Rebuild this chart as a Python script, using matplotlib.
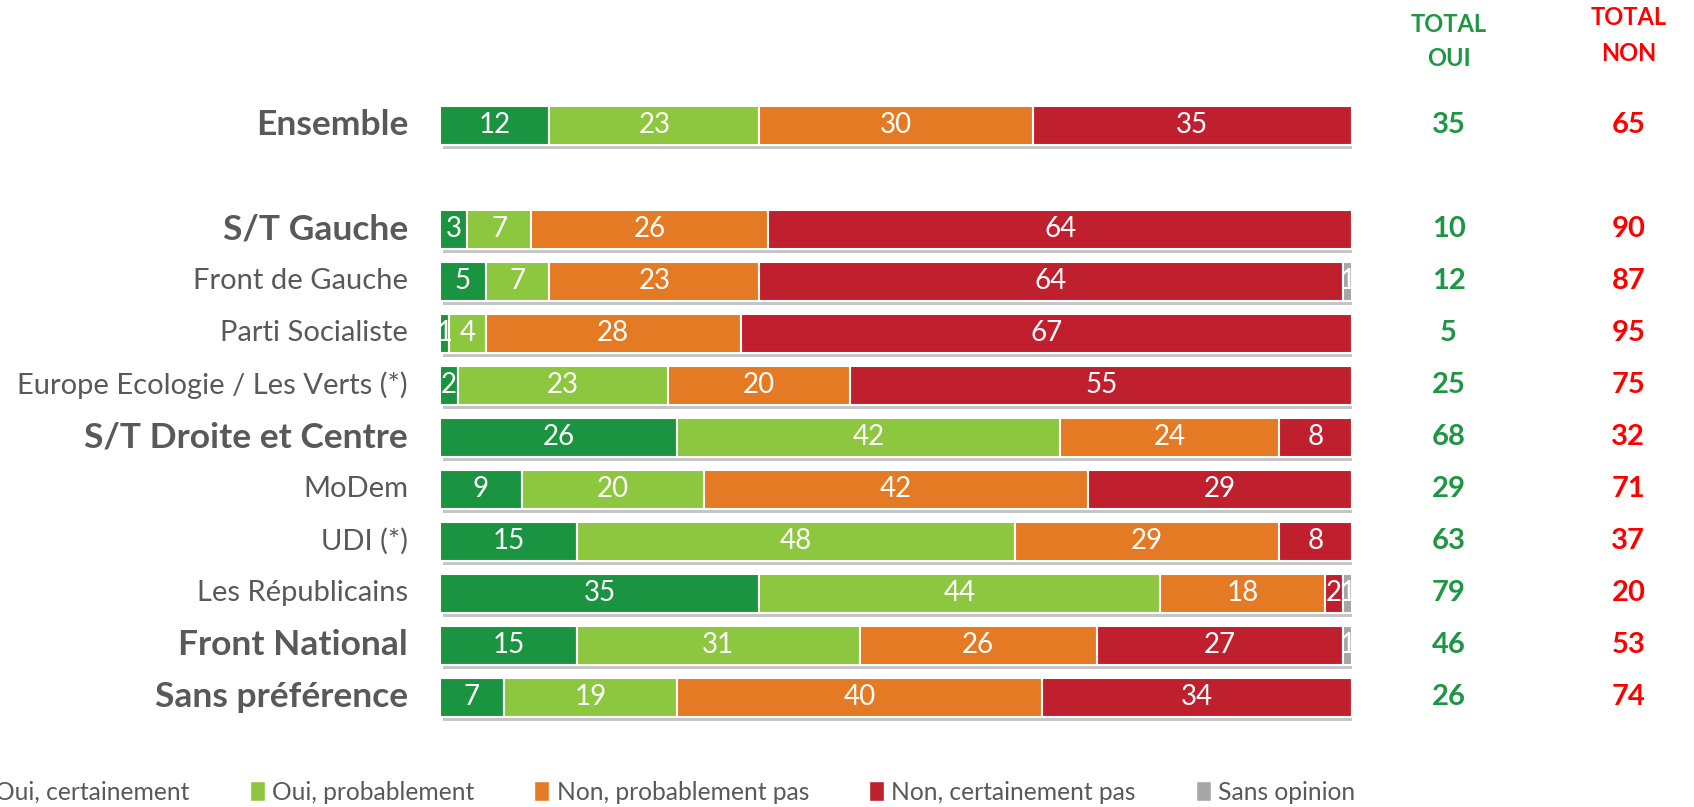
import matplotlib
matplotlib.use('Agg')
import matplotlib.pyplot as plt
import matplotlib.patheffects as pe
from matplotlib.patches import Patch

plt.rcParams['font.family'] = ['Lato', 'DejaVu Sans']

# Data
groups = ['Ensemble', 'S/T Gauche', 'Front de Gauche', 'Parti Socialiste',
          'Europe Ecologie / Les Verts (*)', 'S/T Droite et Centre', 'MoDem',
          'UDI (*)', 'Les Républicains', 'Front National', 'Sans préférence']
bold_groups = ['Ensemble', 'S/T Gauche', 'S/T Droite et Centre',
               'Front National', 'Sans préférence']
rows = [0, 2, 3, 4, 5, 6, 7, 8, 9, 10, 11]

oui_cert = [12, 3, 5, 1, 2, 26, 9, 15, 35, 15, 7]
oui_prob = [23, 7, 7, 4, 23, 42, 20, 48, 44, 31, 19]
non_prob = [30, 26, 23, 28, 20, 24, 42, 29, 18, 26, 40]
non_cert = [35, 64, 64, 67, 55, 8, 29, 8, 2, 27, 34]
sans_op = [0, 0, 1, 0, 0, 0, 0, 0, 1, 1, 0]

total_oui = [35, 10, 12, 5, 25, 68, 29, 63, 79, 46, 26]
total_non = [65, 90, 87, 95, 75, 32, 71, 37, 20, 53, 74]

series = [
    ('Oui, certainement', oui_cert, '#1a9441'),
    ('Oui, probablement', oui_prob, '#8dc63f'),
    ('Non, probablement pas', non_prob, '#e57a24'),
    ('Non, certainement pas', non_cert, '#c01f2e'),
    ('Sans opinion', sans_op, '#a6a6a6'),
]

W, H = 1694, 807
fig = plt.figure(figsize=(W / 100, H / 100), dpi=100)
ax = fig.add_axes([440 / W, 0, 912 / W, 1])
ax.set_xlim(0, 100)
ax.set_ylim(13.115, -2.404)
ax.axis('off')

shadow = [pe.SimplePatchShadow(offset=(2, -3), shadow_rgbFace='#808080', alpha=0.45), pe.Normal()]

left = [0] * len(rows)
for name, vals, color in series:
    bars = ax.barh(rows, vals, left=left, height=0.75, color=color,
                   edgecolor='white', linewidth=1.5, path_effects=shadow)
    for r, v, l in zip(rows, vals, left):
        if v > 0:
            ax.text(l + v / 2, r, str(v), ha='center', va='center',
                    color='white', fontsize=20)
    left = [a + b for a, b in zip(left, vals)]

# group labels
for g, r in zip(groups, rows):
    if g in bold_groups:
        ax.text(-3.5, r, g, ha='right', va='center', fontsize=25.5,
                fontweight='bold', color='#595959')
    else:
        ax.text(-3.5, r, g, ha='right', va='center', fontsize=21,
                color='#595959')

# totals
x_oui, x_non = 110.6, 130.3
ax.text(x_oui, -1.94, 'TOTAL', ha='center', va='center', fontsize=17,
        fontweight='bold', color='#1e9645')
ax.text(x_oui, -1.27, 'OUI', ha='center', va='center', fontsize=17,
        fontweight='bold', color='#1e9645')
ax.text(x_non, -2.06, 'TOTAL', ha='center', va='center', fontsize=17,
        fontweight='bold', color='#ff0000')
ax.text(x_non, -1.37, 'NON', ha='center', va='center', fontsize=17,
        fontweight='bold', color='#ff0000')
for r, o, n in zip(rows, total_oui, total_non):
    ax.text(x_oui, r, str(o), ha='center', va='center', fontsize=21,
            fontweight='bold', color='#1e9645')
    ax.text(x_non, r, str(n), ha='center', va='center', fontsize=21,
            fontweight='bold', color='#ff0000')

handles = [Patch(facecolor=c, edgecolor='white', label=n) for n, v, c in series]
fig.legend(handles=handles, loc='center left', bbox_to_anchor=(-49 / W, 1 - 792 / H),
           ncol=5, frameon=False, fontsize=17.7, handlelength=0.6, handleheight=0.9,
           handletextpad=0.3, columnspacing=2.45, labelcolor='#595959')

fig.savefig('out.png', dpi=100)
